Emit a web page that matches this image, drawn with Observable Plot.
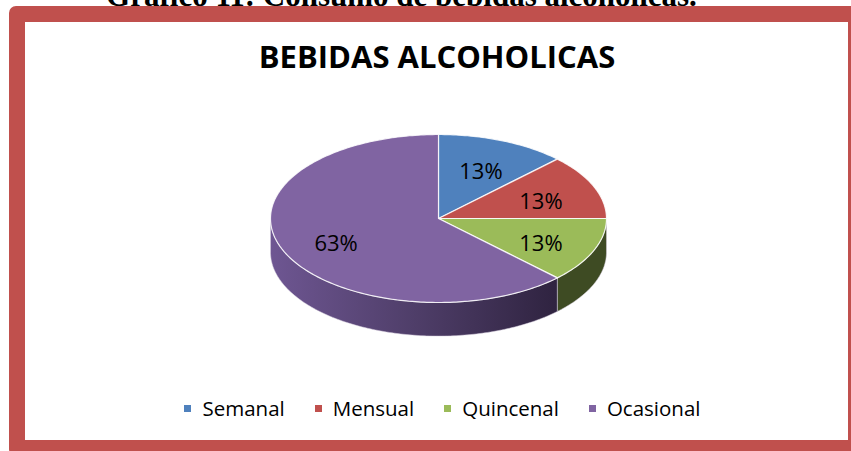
<!DOCTYPE html>
<html><head><meta charset="utf-8">
<script src="https://cdn.jsdelivr.net/npm/d3@7"></script>
<script src="https://cdn.jsdelivr.net/npm/@observablehq/plot@0.6"></script>
<style>
html,body{margin:0;padding:0;background:#fff;}
#page{position:relative;width:851px;height:451px;overflow:hidden;background:#fff;}
#caption{position:absolute;left:0;width:803px;top:-20px;text-align:center;font:bold 31px "Liberation Serif","Times New Roman",serif;color:#000;line-height:31px;white-space:nowrap;}
#frame{position:absolute;left:9px;top:6px;width:855px;height:450px;box-sizing:border-box;border:16px solid #C0504D;border-radius:7px;background:#fff;}
#chart{position:absolute;left:0;top:0;}
#title{position:absolute;left:0;width:874px;top:39px;text-align:center;font:bold 31px "Open Sans",sans-serif;color:#000;line-height:34px;white-space:nowrap;}
#legend{position:absolute;left:0;width:885px;top:395px;display:flex;justify-content:center;gap:30px;font:20.5px "Open Sans",sans-serif;color:#000;line-height:26px;}
#legend .item{display:flex;align-items:center;}
#legend .sw{width:7px;height:7px;margin-right:11px;}
</style>
</head><body>
<div id="page">
  <div id="caption">Gráfico 11: Consumo de bebidas alcohólicas.</div>
  <div id="frame"></div>
  <div id="chart"></div>
  <div id="title">BEBIDAS ALCOHOLICAS</div>
  <div id="legend"></div>
</div>
<script>
const categories = ["Semanal", "Mensual", "Quincenal", "Ocasional"];
const values = [12.5, 12.5, 12.5, 62.5];
const topColors = ["#4F81BD", "#C0504D", "#9BBB59", "#8064A2"];
const sideColors = ["#2F4D71", "#73302E", "#3E4B23", "url(#sideGradP)"];

const total = d3.sum(values);
const depth = 0.4;
const rad = (deg) => deg * Math.PI / 180;
let acc = 0;
const slices = categories.map((c, i) => {
  const a0 = acc / total * 360;
  acc += values[i];
  const a1 = acc / total * 360;
  return {key: c, i, a0, a1, value: values[i], label: Math.round(values[i]) + "%"};
});

function arcPts(s, e, dy, key) {
  const n = Math.max(2, Math.ceil(Math.abs(e - s)));
  return d3.range(n + 1).map(k => {
    const a = rad(s + (e - s) * k / n);
    return {key, X: Math.sin(a), Y: -Math.cos(a) + dy};
  });
}

const topData = slices.map(s => [{key: s.key, X: 0, Y: 0}, ...arcPts(s.a0, s.a1, 0, s.key), {key: s.key, X: 0, Y: 0}]);
const sideData = slices.map(s => {
  const st = Math.max(s.a0, 90), en = Math.min(s.a1, 270);
  if (en <= st) return [];
  return [...arcPts(st, en, 0, s.key), ...arcPts(en, st, depth, s.key), ...arcPts(st, st, 0, s.key).slice(0, 1)];
});
const labelData = slices.map(s => {
  const m = rad((s.a0 + s.a1) / 2);
  return {label: s.label, X: 0.66 * Math.sin(m), Y: -0.66 * Math.cos(m) + 0.05};
});

const marks = [];
slices.forEach((s, i) => {
  if (sideData[i].length) marks.push(Plot.line(sideData[i], {x: "X", y: "Y", fill: sideColors[i], stroke: "#d8d0e0", strokeOpacity: 0.5, strokeWidth: 1, curve: "linear"}));
});
slices.forEach((s, i) => {
  marks.push(Plot.line(topData[i], {x: "X", y: "Y", fill: topColors[i], stroke: "#ffffff", strokeOpacity: 0.85, strokeWidth: 1.2, curve: "linear"}));
});
marks.push(Plot.text(labelData, {x: "X", y: "Y", text: "label", fill: "#000", fontSize: 22, fontFamily: "Open Sans", textAnchor: "middle", lineAnchor: "middle"}));

const svg = Plot.plot({
  width: 851, height: 451, margin: 0,
  style: {background: "transparent", overflow: "visible"},
  x: {domain: [-1, 1], range: [270, 606], axis: null},
  y: {domain: [-1, 1], range: [134, 302], axis: null},
  marks
});
const xs = svg.scale("x");
const gx0 = xs.apply(-1), gx1 = xs.apply(Math.sin(rad(slices[3].a0)));
d3.select(svg).insert("defs", ":first-child").html(
  `<linearGradient id="sideGradP" gradientUnits="userSpaceOnUse" x1="${gx0}" y1="0" x2="${gx1}" y2="0">
     <stop offset="0" stop-color="#6E5692"/>
     <stop offset="0.5" stop-color="#4F3E69"/>
     <stop offset="1" stop-color="#2F2340"/>
   </linearGradient>`);
document.getElementById("chart").appendChild(svg);

const legend = d3.select("#legend");
categories.forEach((c, i) => {
  const it = legend.append("div").attr("class", "item");
  it.append("div").attr("class", "sw").style("background", topColors[i]);
  it.append("span").text(c);
});
</script>
</body></html>
